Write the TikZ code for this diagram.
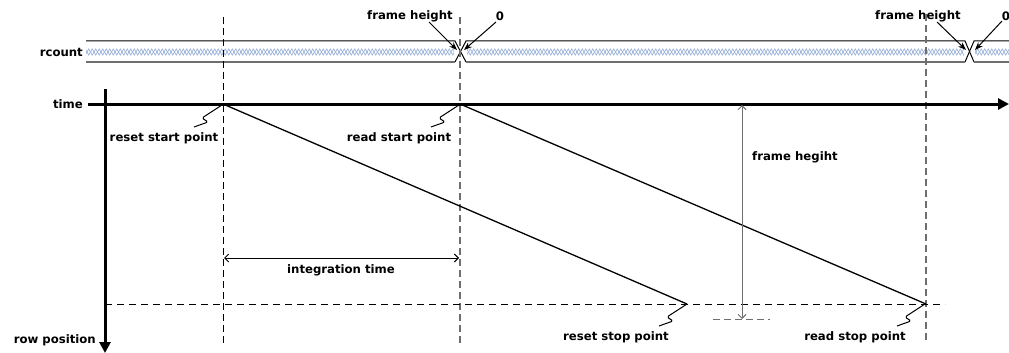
\documentclass[tikz,border=0pt]{standalone}
\usepackage{fontspec}
\setmainfont{DejaVu Sans}
\usetikzlibrary{arrows.meta}
\definecolor{busblue}{RGB}{160,182,218}
\definecolor{dgrey}{RGB}{110,110,110}
\begin{document}
\begin{tikzpicture}[x=1pt,y=-1pt,
  lbl/.style={font=\bfseries\fontsize{11.7}{13}\selectfont, inner sep=0pt},
  axis/.style={line width=3pt, -{Triangle[length=11pt,width=11pt]}},
  vdash/.style={dash pattern=on 7pt off 4pt, line width=1pt},
  gdash/.style={dash pattern=on 7pt off 4pt, line width=1.4pt, draw=dgrey},
  hdash/.style={dash pattern=on 7pt off 5pt, line width=1pt},
  ramp/.style={line width=1.3pt},
  callout/.style={line width=1pt, -{Stealth[length=8pt,width=6pt]}},
  dim/.style={line width=1pt, {Straight Barb[length=4pt,width=8pt]}-{Straight Barb[length=4pt,width=8pt]}},
  busline/.style={line width=1pt},
  busbot/.style={line width=1.5pt, draw=dgrey},
  buspat/.style={line width=0.8pt, draw=busblue},
  squig/.pic={\draw[line width=1pt, rounded corners=1.5pt] (-28,22) -- (-14,17) -- (-20,13) -- (0,0);}
]
\useasboundingbox (0,0) rectangle (1009,353);

% ---- bus pattern
\foreach \a/\b in {86/454, 467/964, 975/1009}{
  \begin{scope}
    \clip (\a,43) rectangle (\b,61);
    \draw[buspat] (80,52) \foreach \i in {0,...,133} {-- ++(1.75,-3) -- ++(3.5,6) -- ++(1.75,-3)};
    \draw[buspat] (80,52) \foreach \i in {0,...,133} {-- ++(1.75,3) -- ++(3.5,-6) -- ++(1.75,3)};
  \end{scope}
}
% bus outline
\coordinate (b0t) at (86,41);   \coordinate (b0b) at (86,62);
\coordinate (x1lt) at (455,41); \coordinate (x1lb) at (455,62);
\coordinate (x1rt) at (466,41); \coordinate (x1rb) at (466,62);
\coordinate (x2lt) at (965,41); \coordinate (x2lb) at (965,62);
\coordinate (x2rt) at (974,41); \coordinate (x2rb) at (974,62);
\coordinate (bet) at (1009,41); \coordinate (beb) at (1009,62);
\draw[busline] (b0t) -- (x1lt) -- (x1rb);
\draw[busline] (x1lb) -- (x1rt) -- (x2lt) -- (x2rb);
\draw[busline] (x2lb) -- (x2rt) -- (bet);
\draw[busbot] (b0b) -- (x1lb);
\draw[busbot] (x1rb) -- (x2lb);
\draw[busbot] (x2rb) -- (beb);

\node[lbl, anchor=east] (rcount) at (83,52) {rcount};

% ---- top labels and callouts
\node[lbl] (fh1) at (410,16) {frame height};
\node[lbl] (z1) at (500,16) {0};
\node[lbl] (fh2) at (918,16) {frame height};
\node[lbl] (z2) at (1006,16) {0};
\coordinate (fh1s) at (429,22); \coordinate (fh1e) at (457,50);
\coordinate (z1s) at (496,22);  \coordinate (z1e) at (464,50);
\coordinate (fh2s) at (937,22); \coordinate (fh2e) at (966,50);
\coordinate (z2s) at (1002,21); \coordinate (z2e) at (975,50);
\draw[callout] (fh1s) -- (fh1e);
\draw[callout] (z1s) -- (z1e);
\draw[callout] (fh2s) -- (fh2e);
\draw[callout] (z2s) -- (z2e);

% ---- dashed verticals
\coordinate (v1t) at (223,17);  \coordinate (v1b) at (223,343);
\coordinate (v2t) at (460,17);  \coordinate (v2b) at (460,343);
\coordinate (v3t) at (926,14);  \coordinate (v3b) at (926,343);
\draw[vdash] (v1t) -- (v1b);
\draw[gdash] (v2t) -- (v2b);
\draw[gdash] (v3t) -- (v3b);

% ---- axes
\coordinate (tstart) at (88,104); \coordinate (tend) at (1009,104);
\coordinate (rstart) at (105,89); \coordinate (rend) at (105,353);
\draw[axis] (tstart) -- (tend);
\draw[axis] (rstart) -- (rend);
\node[lbl, anchor=east] (time) at (83,104) {time};
\node[lbl, anchor=east] (rowpos) at (96,340) {row position};

% ---- horizontal dashed at bottom
\coordinate (hl) at (105,304); \coordinate (hr) at (945,304);
\draw[hdash] (hl) -- (hr);

% ---- ramps
\coordinate (rsp) at (223,104); \coordinate (rdp) at (460,104);
\coordinate (rsq) at (687,304); \coordinate (rdq) at (926,304);
\draw[ramp] (rsp) -- (rsq);
\draw[ramp] (rdp) -- (rdq);

% ---- squiggle callouts
\pic at (222,105) {squig};
\pic at (459,105) {squig};
\pic at (687,304) {squig};
\pic at (925,304) {squig};
\node[lbl] (rsl) at (164,138) {reset start point};
\node[lbl] (rdl) at (399,138) {read start point};
\node[lbl] (rstl) at (616,337) {reset stop point};
\node[lbl] (rdtl) at (855,337) {read stop point};

% ---- integration time
\coordinate (ia) at (224,258); \coordinate (ib) at (459,258);
\draw[dim] (ia) -- (ib);
\node[lbl] (itl) at (341,270) {integration time};

% ---- frame height dimension
\coordinate (fa) at (742,105); \coordinate (fb) at (742,319);
\draw[dim, draw=dgrey] (fa) -- (fb);
\coordinate (fdl) at (713,319); \coordinate (fdr) at (770,319);
\draw[gdash, line width=1pt] (fdl) -- (fdr);
\node[lbl, anchor=west] (fhl) at (752,157) {frame hegiht};
\end{tikzpicture}
\end{document}
